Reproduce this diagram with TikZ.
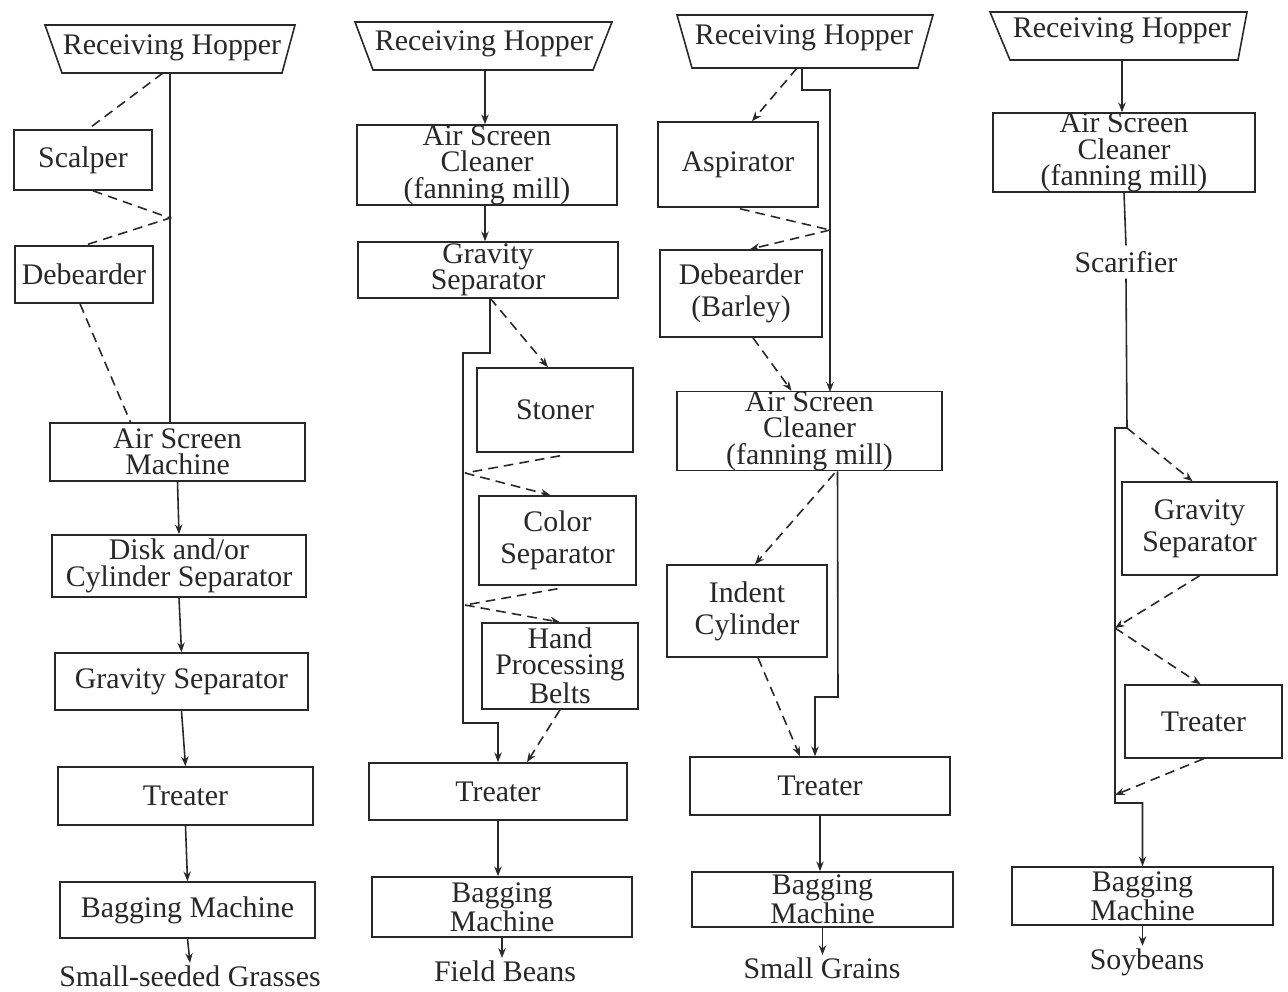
\documentclass[tikz,border=0pt]{standalone}
\usepackage{fontspec}
\setmainfont{Liberation Serif}
\usetikzlibrary{arrows.meta,calc}
\definecolor{ink}{RGB}{40,40,40}
\newcommand\tightfont{\fontsize{17}{15}\selectfont}
\newcommand\loosefont{\fontsize{17}{18.1}\selectfont}
\begin{document}
\begin{tikzpicture}[x=0.02cm,y=-0.02cm,line width=0.9pt,draw=ink,text=ink,
  box/.style={draw,inner sep=0pt,font=\tightfont,align=center},
  lbox/.style={box,font=\loosefont},
  rect/.style args={#1/#2/#3/#4}{minimum width={(#3-#1)*0.02cm},minimum height={(#4-#2)*0.02cm},at={({(#1+#3)/2},{(#2+#4)/2})}},
  lbl/.style={inner sep=1pt,font=\tightfont,align=center},
  arr/.style={-{Stealth[length=5.5pt,width=4.2pt]}},
  dsh/.style={dash pattern=on 5.5pt off 3.5pt}]
\useasboundingbox[fill=white] (0,0) rectangle (1288,991);

% ---------- column 1 : Small-seeded Grasses ----------
\draw (45,25) -- (295,25) -- (282,73) -- (62,73) -- cycle;
\node[lbl] (h1) at (172,48) {Receiving Hopper};
\coordinate (h1b) at (170,73);
\node[box,rect=14/130/152/190] (scalper) {Scalper};
\node[box,rect=15/246/153/303] (deb1) {Debearder};
\node[box,rect=50/423/305/481] (asm) {Air Screen\\Machine};
\node[box,rect=52/535/306/597] (disk) {Disk and/or\\Cylinder Separator};
\node[box,rect=55/653/308/710] (grav1) {Gravity Separator};
\node[box,rect=58/767/313/825] (treat1) {Treater};
\node[box,rect=60/882/315/938] (bag1) {Bagging Machine};
\node[lbl] (out1) at (190,976) {Small-seeded Grasses};
\coordinate (j1) at (170,218);
\draw (h1b) -- (h1b |- asm.north);
\draw[dsh] ($(h1b)+(-7,0)$) -- ($(scalper.north)+(5,0)$);
\draw[dsh] ($(scalper.south)+(10,0)$) -- (j1) -- ($(deb1.north)+(1,0)$);
\draw[dsh] ($(deb1.south)+(-4,0)$) -- ($(asm.north)+(-47,0)$);
\draw[arr] (asm.south) -- (disk.north);
\draw[arr] (disk.south) -- (grav1.north);
\draw[arr] (grav1.south) -- (treat1.north);
\draw[arr] (treat1.south) -- (bag1.north);
\draw[arr] (bag1.south) -- (out1.north);

% ---------- column 2 : Field Beans ----------
\draw (355,22) -- (612,22) -- (593,70) -- (373,70) -- cycle;
\node[lbl] (h2) at (484,44) {Receiving Hopper};
\coordinate (h2b) at (485,70);
\node[box,rect=357/125/617/205] (asc2) {Air Screen\\Cleaner\\(fanning mill)};
\node[box,rect=358/242/618/298] (grav2) {Gravity\\Separator};
\node[box,rect=477/368/633/452] (stoner) {Stoner};
\node[lbox,rect=479/496/636/585] (color) {Color\\Separator};
\node[box,rect=482/623/638/709] (hand) {Hand\\Processing\\Belts};
\node[box,rect=369/763/627/820] (treat2) {Treater};
\node[box,rect=372/877/632/937] (bag2) {Bagging\\Machine};
\node[lbl] (out2) at (505,971) {Field Beans};
\coordinate (j2a) at (465,473);
\coordinate (j2b) at (465,605);
\coordinate (g2o) at (490,298);
\draw[arr] (h2b) -- (h2b |- asc2.north);
\draw[arr] (h2b |- asc2.south) -- (h2b |- grav2.north);
\draw[arr] (g2o) -- (490,353) -| (463,723) -| (treat2.north);
\draw[dsh,arr] (g2o) -- ($(stoner.north)+(-7,0)$);
\draw[dsh] ($(stoner.south)+(5,3)$) -- (j2a);
\draw[dsh,arr] (j2a) -- ($(color.north)+(-7,0)$);
\draw[dsh] ($(color.south)+(0,3)$) -- (j2b);
\draw[dsh,arr] (j2b) -- (hand.north);
\draw[dsh,arr] (hand.south) -- ($(treat2.north)+(29,0)$);
\draw[arr] (treat2.south) -- (treat2.south |- bag2.north);
\draw[arr] (bag2.south) -- (out2.north -| bag2.south);

% ---------- column 3 : Small Grains ----------
\draw (677,15) -- (933,15) -- (918,68) -- (692,68) -- cycle;
\node[lbl] (h3) at (804,38) {Receiving Hopper};
\coordinate (h3b) at (802,68);
\node[box,rect=658/122/818/207] (asp) {Aspirator};
\node[lbox,rect=660/250/822/337] (deb3) {Debearder\\(Barley)};
\node[box,rect=677/392/942/470] (asc3) {Air Screen\\Cleaner\\(fanning mill)};
\node[lbox,rect=667/565/827/657] (indent) {Indent\\Cylinder};
\node[box,rect=690/757/950/815] (treat3) {Treater};
\node[box,rect=692/872/953/927] (bag3) {Bagging\\Machine};
\node[lbl] (out3) at (822,968) {Small Grains};
\coordinate (j3a) at (830,230);
\draw[arr] (h3b) |- (830,90) -- (830,392);
\draw[dsh,arr] ($(h3b)+(-5,0)$) -- ($(asp.north)+(14,0)$);
\draw[dsh] ($(asp.south)+(2,1)$) -- (j3a);
\draw[dsh,arr] (j3a) -- ($(deb3.north)+(9,0)$);
\draw[dsh,arr] ($(deb3.south)+(12,0)$) -- ($(asc3.north)+(-18,0)$);
\draw[arr] ($(asc3.south)+(28,0)$) -- (838,697) -| ($(treat3.north)+(-5,0)$);
\draw[dsh,arr] ($(asc3.south)+(25,2)$) -- ($(indent.north)+(8,0)$);
\draw[dsh,arr] ($(indent.south)+(11,0)$) -- ($(treat3.north)+(-20,0)$);
\draw[arr] (treat3.south) -- (treat3.south |- bag3.north);
\draw[arr] (bag3.south) -- (out3.north -| bag3.south);

% ---------- column 4 : Soybeans ----------
\draw (990,12) -- (1247,12) -- (1238,60) -- (1010,60) -- cycle;
\node[lbl] (h4) at (1122,31) {Receiving Hopper};
\coordinate (h4b) at (1122,60);
\node[box,rect=993/113/1255/192] (asc4) {Air Screen\\Cleaner\\(fanning mill)};
\node[lbl,inner sep=3pt] (scar) at (1126,262) {Scarifier};
\node[lbox,rect=1122/482/1277/575] (grav4) {Gravity\\Separator};
\node[box,rect=1125/685/1282/758] (treat4) {Treater};
\node[box,rect=1012/867/1273/925] (bag4) {Bagging\\Machine};
\node[lbl] (out4) at (1147,962) {Soybeans};
\coordinate (j4a) at (1115,628);
\coordinate (j4b) at (1115,795);
\coordinate (c4) at (1127,428);
\draw[arr] (h4b) -- (h4b |- asc4.north);
\draw (asc4.south) -- (scar.north);
\draw[arr] (scar.south) -- (c4) -| (1115,803) -| (bag4.north);
\draw[dsh,arr] (c4) -- ($(grav4.north)+(-7,0)$);
\draw[dsh,arr] (grav4.south) -- (j4a);
\draw[dsh,arr] (j4a) -- ($(treat4.north)+(-3,0)$);
\draw[dsh,arr] (treat4.south) -- (j4b);
\draw[arr] (bag4.south) -- (out4.north -| bag4.south);
\end{tikzpicture}
\end{document}
